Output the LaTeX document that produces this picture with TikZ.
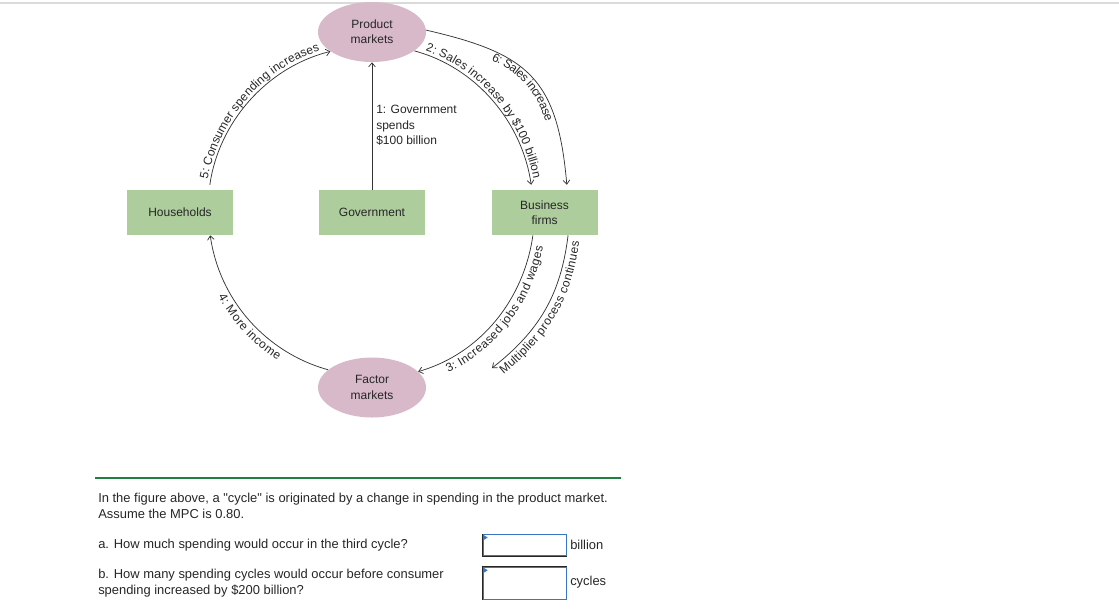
\documentclass[tikz,border=0pt]{standalone}
\usepackage{fontspec}
\setmainfont{Liberation Sans}[Ligatures=TeXOff]
\usetikzlibrary{arrows.meta,decorations.text,shapes.geometric}
\definecolor{boxgreen}{HTML}{AECD9D}
\definecolor{mktpink}{HTML}{D8B9C9}
\definecolor{txt}{HTML}{262626}
\definecolor{arccol}{HTML}{333333}
\definecolor{rulegreen}{HTML}{1F7F3F}
\definecolor{topgray}{HTML}{DADADA}
\definecolor{inblue}{HTML}{3A75C4}
\begin{document}
\begin{tikzpicture}[x=0.75pt,y=0.75pt,
  font=\fontsize{9}{11.5}\selectfont, text=txt,
  agent/.style={rectangle, fill=boxgreen, minimum width=79.5pt, minimum height=33.75pt, inner sep=0pt, align=center},
  market/.style={ellipse, fill=mktpink, minimum width=81pt, minimum height=45pt, inner sep=0pt, align=center},
  flow/.style={draw=arccol, line width=0.55pt, -{Straight Barb[length=3pt,width=5pt]}},
  lbl/.style n args={3}{decorate, decoration={text along path, text align={#2}, raise=#1,
      text={|\fontsize{9}{11}\selectfont\color{txt}|#3}}},
  inbox/.style={rectangle, draw=black!85, line width=0.75pt, minimum width=63pt, inner sep=0pt},
  qtext/.style={anchor=west, align=left, inner sep=0pt, font=\fontsize{9.7}{12}\selectfont}
]
\useasboundingbox (0,0) rectangle (1119,-612);
\draw[topgray, line width=1.2pt] (0,-3) -- (1119,-3);

% nodes
\node[agent] (hh) at (180,-212.5) {Households};
\node[agent] (gov) at (372,-212.5) {Government};
\node[agent] (bf) at (544.5,-212.5) {Business\\firms};
\node[market] (pm) at (372,-32) {Product\\markets};
\node[market] (fm) at (372,-387.5) {Factor\\markets};
\coordinate (mpend) at (492,-368);

% government spending
\draw[flow] (gov) -- (pm);
\node[anchor=west, align=left, inner sep=0pt] (gl) at (376,-125.5) {1: Government\\spends\\\$100 billion};

% circular flow
\draw[flow, shorten <=3.75pt] (hh.38) to[out=82, in=194, looseness=0.93] (pm.205);
\path[lbl={2.5pt}{align=center}{5: Consumer spending increases}] (hh.38) to[out=82, in=194, looseness=0.93] (pm.205);

\draw[flow, shorten >=3.75pt] (pm.336) to[out=-15, in=98, looseness=0.93] (bf.119);
\path[lbl={2.5pt}{align=center}{2: Sales increase by {\$}100 billion}] (pm.336) to[out=-15, in=98, looseness=0.93] (bf.119);

\draw[flow, shorten >=3.75pt] (pm.2) to[out=-13, in=95, out looseness=1.25, in looseness=1.35] (bf.45);
\path[lbl={-7pt}{align=center}{6: Sales increase}] (pm.2) to[out=-13, in=95, out looseness=1.25, in looseness=1.35] (bf.45);

\draw[flow] (bf.243) to[out=-98, in=16, looseness=0.93] (fm.19);
\path[lbl={-9pt}{align=right, right indent=7pt}{3: Increased jobs and wages}] (fm.19) to[out=16, in=-98, looseness=0.93] (bf.243);

\draw[flow] (bf.316) to[out=-97, in=38, looseness=1.0] (mpend);
\path[lbl={-9pt}{align=center}{Multiplier process continues}] (mpend) to[out=38, in=-97, looseness=1.0] (bf.316);

\draw[flow] (fm.158) to[out=164.5, in=-82, looseness=0.93] (hh.323);
\path[lbl={-9pt}{align=right, right indent=36pt}{4: More income}] (hh.323) to[out=-82, in=164.5, looseness=0.93] (fm.158);

% question area
\draw[rulegreen, line width=1.5pt] (95,-478) -- (621,-478);
\node[qtext] (q1) at (98,-506) {In the figure above, a "cycle" is originated by a change in spending in the product market.\\Assume the MPC is 0.80.};
\node[qtext] (qa) at (98,-545) {a. How much spending would occur in the third cycle?};
\node[qtext] (qb) at (98,-583.5) {b. How many spending cycles would occur before consumer\\spending increased by \$200 billion?};

\node[inbox, minimum height=16.5pt] (ansa) at (524.7,-545) {};
\node[inbox, minimum height=24.75pt] (ansb) at (524.7,-583.3) {};
\draw[inblue, line width=0.6pt] ([shift={(1.2,-1.2)}]ansa.north west) rectangle ([shift={(-1.2,1.2)}]ansa.south east);
\draw[inblue, line width=0.6pt] ([shift={(1.2,-1.2)}]ansb.north west) rectangle ([shift={(-1.2,1.2)}]ansb.south east);
\fill[inblue] ([shift={(1.5,-1.5)}]ansa.north west) -- ++(4,-2.5) -- ++(-4,-2.5) -- cycle;
\fill[inblue] ([shift={(1.5,-1.5)}]ansb.north west) -- ++(4,-2.5) -- ++(-4,-2.5) -- cycle;
\node[qtext] (ua) at (570,-545) {billion};
\node[qtext] (ub) at (570,-582) {cycles};
\end{tikzpicture}
\end{document}
